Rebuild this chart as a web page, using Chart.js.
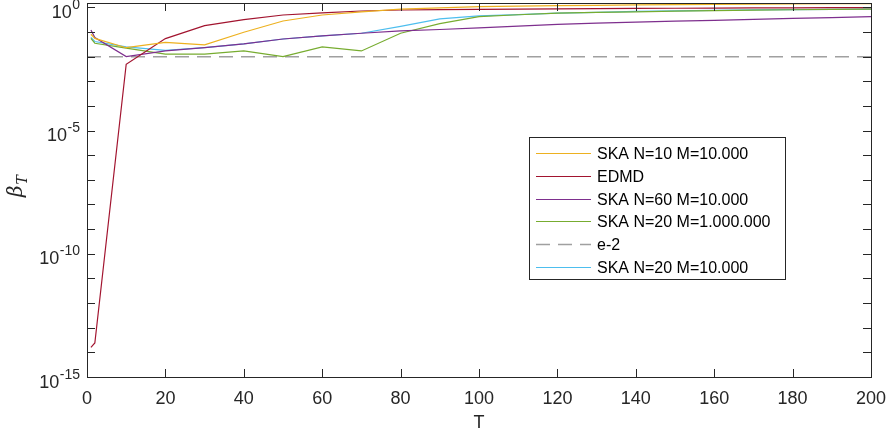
<!DOCTYPE html>
<html>
<head>
<meta charset="utf-8">
<script src="https://cdn.jsdelivr.net/npm/chart.js@4/dist/chart.umd.min.js"></script>
<style>
  html, body { margin: 0; padding: 0; background: #fff; }
  #wrap { width: 887px; height: 435px; }
</style>
</head>
<body>
<div id="wrap"><canvas id="myChart" width="887" height="435"></canvas></div>
<script>
// time steps T
const T = [1, 2, 10, 20, 30, 40, 50, 60, 70, 80, 90, 100, 110, 120, 130, 140, 150, 160, 170, 180, 190, 200];

const skaN10 = [0.081, 0.055, 0.023, 0.038, 0.030, 0.098, 0.28, 0.49, 0.66, 0.85, 0.95, 1.07, 1.12, 1.17, 1.20, 1.26, 1.29, 1.32, 1.35, 1.38, 1.41, 1.42];
const edmd = [1.6e-14, 2.4e-14, 0.0049, 0.054, 0.18, 0.32, 0.49, 0.60, 0.71, 0.78, 0.81, 0.83, 0.85, 0.87, 0.89, 0.91, 0.92, 0.93, 0.95, 0.96, 0.97, 0.98];
const skaN60 = [0.12, 0.060, 0.010, 0.017, 0.023, 0.033, 0.052, 0.069, 0.089, 0.11, 0.126, 0.148, 0.174, 0.204, 0.229, 0.251, 0.275, 0.295, 0.324, 0.355, 0.38, 0.417];
const skaN20M1e6 = [0.055, 0.035, 0.022, 0.0126, 0.0126, 0.017, 0.010, 0.025, 0.017, 0.089, 0.22, 0.42, 0.50, 0.58, 0.62, 0.66, 0.70, 0.74, 0.77, 0.80, 0.82, 0.84];
const skaN20 = [0.060, 0.041, 0.025, 0.018, 0.023, 0.033, 0.052, 0.069, 0.089, 0.17, 0.34, 0.45, 0.51, 0.58, 0.63, 0.68, 0.72, 0.76, 0.79, 0.81, 0.83, 0.85];

// reference level
const refT = [0, 200];
const refLevel = [0.01, 0.01];

const xTicks = [0, 20, 40, 60, 80, 100, 120, 140, 160, 180, 200];
const yExponents = [-15, -14, -13, -12, -11, -10, -9, -8, -7, -6, -5, -4, -3, -2, -1, 0];
const yLabelExponents = [-15, -10, -5, 0];

const pts = (xs, ys) => xs.map((x, i) => ({x: x, y: ys[i]}));

const AX = '#262626';
const FONT = "'Liberation Sans', Arial, Helvetica, sans-serif";

const series = [
  {label: 'SKA N=10 M=10.000', data: pts(T, skaN10), borderColor: '#EDB120'},
  {label: 'EDMD', data: pts(T, edmd), borderColor: '#A2142F'},
  {label: 'SKA N=60 M=10.000', data: pts(T, skaN60), borderColor: '#7E2F8E'},
  {label: 'SKA N=20 M=1.000.000', data: pts(T, skaN20M1e6), borderColor: '#77AC30'},
  {label: 'e-2', data: pts(refT, refLevel), borderColor: '#a0a0a0', borderDash: [14, 8], borderWidth: 1.5},
  {label: 'SKA N=20 M=10.000', data: pts(T, skaN20), borderColor: '#4DBEEE'}
];

// box, inward ticks, power labels, y title and legend drawn like MATLAB
const matlabAxes = {
  id: 'matlabAxes',
  afterDraw(chart) {
    const {ctx, chartArea: a, scales} = chart;
    const xs = scales.x, ys = scales.y;
    ctx.save();
    ctx.strokeStyle = AX;
    ctx.lineWidth = 1;
    ctx.strokeRect(Math.round(a.left) + 0.5, Math.round(a.top) + 0.5,
      Math.round(a.right - a.left), Math.round(a.bottom - a.top));
    ctx.beginPath();
    xTicks.forEach(v => {
      const px = Math.round(xs.getPixelForValue(v)) + 0.5;
      ctx.moveTo(px, a.bottom); ctx.lineTo(px, a.bottom - 8);
      ctx.moveTo(px, a.top); ctx.lineTo(px, a.top + 8);
    });
    yExponents.forEach(e => {
      const py = Math.round(ys.getPixelForValue(Math.pow(10, e))) + 0.5;
      ctx.moveTo(a.left, py); ctx.lineTo(a.left + 8, py);
      ctx.moveTo(a.right, py); ctx.lineTo(a.right - 8, py);
    });
    ctx.stroke();

    // 10^n labels with raised exponent
    ctx.fillStyle = AX;
    ctx.textBaseline = 'alphabetic';
    ctx.textAlign = 'left';
    yLabelExponents.forEach(e => {
      const py = ys.getPixelForValue(Math.pow(10, e));
      const exp = String(e);
      ctx.font = '14px ' + FONT;
      const ew = ctx.measureText(exp).width;
      ctx.font = '18px ' + FONT;
      const bw = ctx.measureText('10').width;
      const x0 = 80 - ew - bw - 0.5;
      ctx.fillText('10', x0, py + 10.5);
      ctx.font = '14px ' + FONT;
      ctx.fillText(exp, x0 + bw + 0.5, py + 1.5);
    });

    // y axis title beta_T
    ctx.translate(22, 197);
    ctx.rotate(-Math.PI / 2);
    ctx.font = "italic 20px 'DejaVu Serif', 'Liberation Serif', serif";
    ctx.fillText('β', 0, 0);
    const btw = ctx.measureText('β').width;
    ctx.font = "italic 14px 'DejaVu Serif', 'Liberation Serif', serif";
    ctx.fillText('T', btw + 1, 5);
    ctx.restore();

    // legend
    ctx.save();
    const lx = 529.5, ly = 137.5, lw = 256, lh = 142;
    ctx.fillStyle = '#fff';
    ctx.fillRect(lx, ly, lw, lh);
    ctx.strokeStyle = AX;
    ctx.lineWidth = 1;
    ctx.strokeRect(lx, ly, lw, lh);
    ctx.font = '16px ' + FONT;
    ctx.textBaseline = 'middle';
    chart.data.datasets.forEach((ds, i) => {
      const y = Math.round(152.7 + i * 22.9) + 0.5;
      ctx.strokeStyle = ds.borderColor;
      ctx.lineWidth = ds.borderDash ? 1.5 : 1;
      ctx.setLineDash(ds.borderDash || []);
      ctx.beginPath();
      ctx.moveTo(536, y); ctx.lineTo(591, y);
      ctx.stroke();
      ctx.setLineDash([]);
      ctx.fillStyle = '#000';
      ctx.fillText(ds.label, 597, y + 1);
    });
    ctx.restore();
  }
};

const ctx = document.getElementById('myChart').getContext('2d');

const myChart = new Chart(ctx, {
  type: 'line',
  data: {
    datasets: series.map(s => Object.assign({
      borderWidth: 1.2,
      pointRadius: 0,
      fill: false,
      tension: 0
    }, s))
  },
  options: {
    responsive: false,
    animation: false,
    layout: { padding: { top: 3, right: 16, left: 0, bottom: 0 } },
    plugins: {
      legend: { display: false },
      tooltip: { enabled: false }
    },
    scales: {
      x: {
        type: 'linear',
        min: 0,
        max: 200,
        grid: { display: false, drawTicks: false },
        border: { display: false },
        afterBuildTicks: s => { s.ticks = xTicks.map(v => ({value: v})); },
        ticks: { color: AX, font: { size: 18, family: FONT }, padding: 11, maxRotation: 0, autoSkip: false },
        title: { display: true, text: 'T', color: AX, font: { size: 18, family: FONT }, padding: { top: 0, bottom: 1 } },
        afterFit: s => { s.height = 58; s.paddingLeft = 0; s.paddingRight = 0; }
      },
      y: {
        type: 'logarithmic',
        min: 1e-15,
        max: 1.5,
        grid: { display: false, drawTicks: false },
        border: { display: false },
        afterBuildTicks: s => { s.ticks = yExponents.map(e => ({value: Math.pow(10, e)})); },
        ticks: { display: false },
        afterFit: s => { s.width = 87; s.paddingTop = 0; s.paddingBottom = 0; }
      }
    }
  },
  plugins: [matlabAxes]
});
</script>
</body>
</html>
